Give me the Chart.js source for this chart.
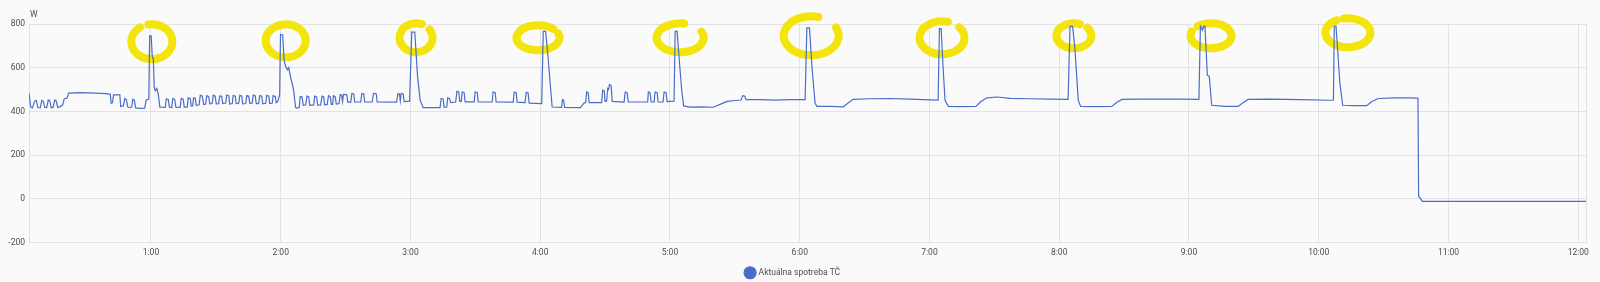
<!DOCTYPE html>
<html>
<head>
<meta charset="utf-8">
<script src="https://cdn.jsdelivr.net/npm/chart.js@4.4.1/dist/chart.umd.min.js"></script>
<style>
  html, body { margin: 0; padding: 0; background: #fafafa; }
  canvas { display: block; }
</style>
</head>
<body>
<canvas id="c" width="1600" height="282"></canvas>
<script>
// ---- data (minutes after midnight, watts) ----
const seriesLabel = 'Aktuálna spotreba TČ';
const unitLabel = 'W';

const minutes = [
  3.6,4.4,5.1,6.3,7.0,7.7,8.8,9.5,10.2,10.9,11.8,12.5,13.2,13.9,14.8,15.5,16.2,16.9,18.1,19.2,19.9,21.1,22.0,27.3,34.3,38.9,41.2,41.6,42.2,42.7,45.6,46.0,47.2,47.9,48.6,49.3,50.2,51.1,51.6,52.3,52.9,55.1,57.1,57.8,59.0,59.4,60.1,60.6,61.1,61.5,62.0,62.7,63.4,64.1,
  64.3,66.6,67.1,68.0,68.5,69.6,70.1,71.0,71.5,73.5,74.0,74.9,75.4,76.8,77.2,78.2,78.6,79.3,79.7,80.5,80.9,82.3,82.8,83.7,84.4,85.3,85.8,86.7,87.2,88.3,88.8,89.7,90.2,91.3,91.8,92.7,93.2,94.6,95.0,96.0,96.4,97.6,98.0,99.0,99.4,100.6,101.1,102.0,102.4,103.8,104.3,105.2,105.7,106.8,107.3,108.2,108.7,109.8,110.3,111.2,111.7,113.1,113.5,114.5,114.9,116.1,116.5,117.5,117.9,118.6,119.5,
  119.9,120.9,121.6,122.5,123.2,123.7,124.6,125.3,126.0,126.9,
  127.6,128.6,129.0,129.9,130.4,131.6,132.1,133.0,133.4,135.3,135.7,136.6,137.1,138.5,139.1,139.9,140.3,141.5,142.1,142.9,143.4,144.0,144.4,145.2,145.7,147.0,147.5,148.2,148.6,149.0,150.6,151.0,152.4,152.9,153.8,154.2,157.0,157.5,158.4,158.8,162.3,162.9,164.2,164.6,173.6,174.2,174.9,175.3,175.7,176.6,177.1,179.6,
  180.6,182.0,183.3,184.5,185.9,
  193.7,194.2,195.1,195.6,196.8,197.2,198.1,198.6,200.9,201.5,202.3,202.8,203.5,203.9,204.8,205.3,209.5,209.9,210.9,211.3,217.8,218.2,219.2,219.6,227.5,228.0,228.9,229.3,233.0,233.5,234.4,234.9,240.7,
  241.4,242.5,243.7,244.6,245.5,
  249.9,250.3,250.8,251.3,258.5,260.3,261.0,261.5,262.2,262.6,268.4,268.9,269.6,270.0,270.7,271.2,271.6,272.0,272.8,273.3,278.8,279.3,280.2,280.7,289.7,290.0,290.8,291.3,292.7,293.1,294.1,294.5,296.8,297.3,298.2,298.7,301.9,
  302.4,303.3,304.5,305.4,306.3,
  309.3,313.9,320.0,323.2,326.4,330.1,332.9,333.6,334.5,335.2,341.7,348.6,355.5,362.5,
  363.3,364.5,365.7,367.1,368.0,
  374.0,380.1,382.4,384.7,392.5,401.8,411.0,420.3,424.0,
  424.6,425.4,426.3,427.2,428.7,
  434.1,441.5,443.8,446.6,451.2,457.3,466.5,475.8,484.1,
  485.0,486.2,487.3,488.8,489.9,
  496.6,504.3,506.7,509.0,517.4,526.6,535.8,544.6,
  545.3,546.3,546.7,547.4,548.5,549.4,550.5,
  556.7,562.7,565.0,567.3,577.5,591.3,605.2,606.8,
  607.2,608.0,609.8,611.1,
  616.8,622.2,624.6,627.5,635.2,642.2,645.3,645.9,646.2,648.0,723.6
];

const watts = [
  485,420,415,448,450,418,416,450,446,418,417,452,448,416,420,452,447,418,422,430,458,460,484,486,484,481,478,437,440,476,476,422,425,459,455,420,418,420,456,452,416,414,415,452,455,746,746,650,640,510,495,505,478,420,
  420,418,458,455,420,417,459,455,419,418,460,456,420,420,462,458,424,425,462,460,428,430,474,470,432,434,472,468,435,436,474,470,434,435,471,469,436,438,475,471,434,436,473,470,436,437,474,470,435,436,472,469,437,438,475,471,436,436,473,470,435,437,474,470,436,438,472,468,440,445,474,
  752,750,630,600,590,600,555,528,495,418,
  414,420,468,466,428,430,470,466,428,430,470,466,429,430,470,466,430,432,472,468,432,432,472,468,434,436,477,474,445,478,476,442,442,482,480,443,443,482,480,443,443,482,480,443,442,482,480,448,482,480,445,447,
  763,763,558,451,417,
  417,459,457,419,420,462,458,440,443,492,490,446,446,489,487,444,444,489,486,444,443,489,486,443,442,489,486,442,440,487,484,438,436,
  766,766,640,530,420,
  418,455,452,418,417,438,440,489,486,440,440,497,494,445,447,505,500,523,518,446,443,489,486,443,443,489,486,443,443,489,486,443,443,489,486,445,447,
  766,766,610,500,425,
  420,421,419,432,446,450,452,472,470,454,454,452,454,454,
  782,782,600,437,423,
  423,421,438,455,458,459,456,453,452,
  779,779,600,451,423,
  422,423,445,462,466,460,458,456,455,
  789,789,682,451,423,
  422,423,442,455,456,456,456,455,
  789,772,789,789,566,560,428,
  423,423,440,455,456,454,451,452,
  789,789,528,428,
  426,426,445,459,462,462,461,460,12,-12,-12
];

const tickMinutes = [60,120,180,240,300,360,420,480,540,600,660,720];
const tickLabels  = ['1:00','2:00','3:00','4:00','5:00','6:00','7:00','8:00','9:00','10:00','11:00','12:00'];
const rangeStart = 3.6, rangeEnd = 723.6;
const yTicks = [-200, 0, 200, 400, 600, 800];

// hand-drawn highlight marks around the peaks (centre in data units)
const markMinutes = [60.4,122.3,182.6,239.0,304.7,365.3,425.8,486.8,550.2,613.5];
const markWatts   = [719,723,737,737,737,746,737,746,746,760];

// ---- styles ----
const LINE = '#4b6dca';
const GRID = '#e2e2e2';
const TEXT = '#4d4d4d';
const FONT = { family: 'Roboto', size: 8.5 };
const markRx = [20.5,20,16.5,21.5,23.5,27.5,22.5,17.5,20.5,22.5];
const markRy = [17.5,16.5,14.5,12.5,14.5,19.5,16.5,12.5,12.5,14.5];
const markGap = [[-125,-100],[-55,-45],[-70,-35],[-45,-20],[-80,-25],[-75,-25],[-75,-40],[-70,-40],[-160,-130],[-120,-100]];

const points = minutes.map((m, i) => ({ x: m, y: watts[i] }));

const markPlugin = {
  id: 'marks',
  beforeDatasetsDraw(chart) {
    const { ctx, scales: { x, y } } = chart;
    ctx.save();
    ctx.strokeStyle = '#f3e40b';
    ctx.lineWidth = 8;
    ctx.lineCap = 'round';
    markMinutes.forEach((t, i) => {
      const cx = x.getPixelForValue(t), cy = y.getPixelForValue(markWatts[i]);
      const [g0, g1] = markGap[i];
      ctx.beginPath();
      ctx.ellipse(cx, cy, markRx[i], markRy[i], 0, g1 * Math.PI / 180, (g0 + 360) * Math.PI / 180);
      ctx.stroke();
    });
    ctx.restore();
  }
};

const unitPlugin = {
  id: 'unit',
  afterDraw(chart) {
    const { ctx, chartArea } = chart;
    ctx.save();
    ctx.fillStyle = TEXT;
    ctx.font = `${FONT.size}px ${FONT.family}`;
    ctx.textAlign = 'left';
    ctx.textBaseline = 'middle';
    ctx.fillText(unitLabel, chartArea.left + 1, chartArea.top - 9);
    ctx.restore();
  }
};

new Chart(document.getElementById('c'), {
  type: 'line',
  data: {
    datasets: [{
      label: seriesLabel,
      data: points,
      borderColor: LINE,
      backgroundColor: LINE,
      borderWidth: 1.2,
      pointRadius: 0,
      tension: 0,
      fill: false
    }]
  },
  options: {
    responsive: false,
    animation: false,
    devicePixelRatio: 1,
    layout: { padding: { left: 0, right: 14, top: 24, bottom: -5 } },
    scales: {
      x: {
        type: 'linear',
        min: rangeStart,
        max: rangeEnd,
        afterBuildTicks: s => { s.ticks = tickMinutes.map(v => ({ value: v })).concat([{ value: rangeEnd }]); },
        ticks: {
          autoSkip: false, maxRotation: 0, padding: 5, color: TEXT, font: FONT,
          callback: v => { const i = tickMinutes.indexOf(v); return i >= 0 ? tickLabels[i] : ''; }
        },
        grid: { color: GRID, drawTicks: false },
        border: { color: GRID },
        afterFit: s => { s.height = 15; }
      },
      y: {
        min: yTicks[0],
        max: yTicks[yTicks.length - 1],
        afterBuildTicks: s => { s.ticks = yTicks.map(v => ({ value: v })); },
        ticks: { padding: 4, color: TEXT, font: FONT },
        grid: { color: GRID, drawTicks: false },
        border: { color: GRID },
        afterFit: s => { s.width = 29; }
      }
    },
    plugins: {
      legend: {
        position: 'bottom',
        labels: { usePointStyle: true, pointStyle: 'circle', color: TEXT, font: FONT, padding: 11 }
      },
      tooltip: { enabled: false }
    }
  },
  plugins: [markPlugin, unitPlugin]
});
</script>
</body>
</html>
